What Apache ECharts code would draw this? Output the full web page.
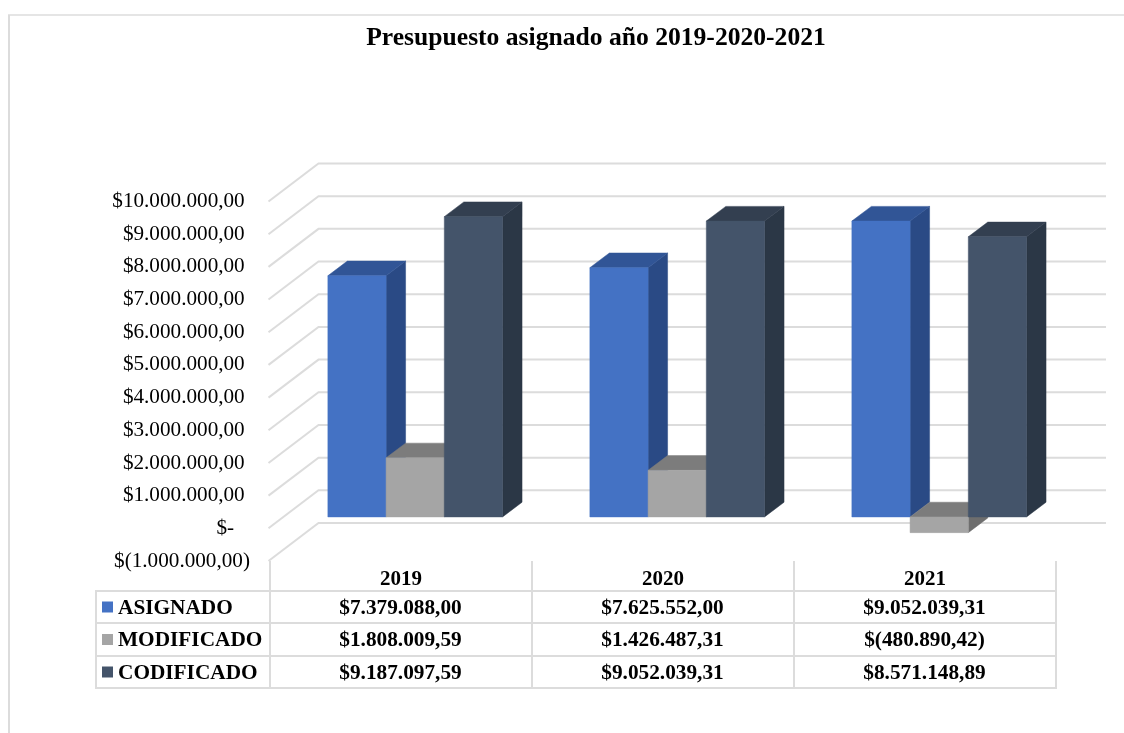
<!DOCTYPE html>
<html lang="es">
<head>
	<meta charset="UTF-8">
	<style>
		html, body { margin: 0; padding: 0; background: #fff; }
		#chart { width: 1124px; height: 733px; }
	</style>
</head>
<body>
<div id="chart"></div>
<script src="https://cdn.jsdelivr.net/npm/echarts@6/dist/echarts.min.js"></script>
<script>
  var categories = ['2019', '2020', '2021'];
  var seriesNames = ['ASIGNADO', 'MODIFICADO', 'CODIFICADO'];
  var asignado = [7379088.00, 7625552.00, 9052039.31];
  var modificado = [1808009.59, 1426487.31, -480890.42];
  var codificado = [9187097.59, 9052039.31, 8571148.89];
  var tickValues = [-1000000, 0, 1000000, 2000000, 3000000, 4000000, 5000000, 6000000, 7000000, 8000000, 9000000, 10000000];
  var tickLabels = ['$(1.000.000,00)', '$-', '$1.000.000,00', '$2.000.000,00', '$3.000.000,00', '$4.000.000,00',
    '$5.000.000,00', '$6.000.000,00', '$7.000.000,00', '$8.000.000,00', '$9.000.000,00', '$10.000.000,00'];
  var asignadoText = ['$7.379.088,00', '$7.625.552,00', '$9.052.039,31'];
  var modificadoText = ['$1.808.009,59', '$1.426.487,31', '$(480.890,42)'];
  var codificadoText = ['$9.187.097,59', '$9.052.039,31', '$8.571.148,89'];

  // front, side, top colour of each bar series
  var barColors = [
    ['#4472C4', '#2A4A85', '#315596'],
    ['#A5A5A5', '#6E6E6E', '#7C7C7C'],
    ['#44546A', '#2B3746', '#333F50']
  ];
  var fontName = '"Liberation Serif", serif';
  var lineColor = '#DCDCDC';

  // the 3d box: full depth of the floor, and how deep the bars sit in it
  var wallDx = 50, wallDy = 38;
  var barDx = 19.5, barDy = 14.7;
  var shiftDx = 14.2, shiftDy = 11.4;

  var chart = echarts.init(document.getElementById('chart'));

  function toPairs(arr) {
    return arr.map(function (v, i) { return [i, v]; });
  }

  function renderWall(params, api) {
    var cs = params.coordSys;
    var y = api.coord([0, api.value(1)])[1];
    return {
      type: 'polyline',
      shape: { points: [[cs.x - 1.5, y], [cs.x + wallDx - 1.5, y - wallDy], [cs.x + cs.width + wallDx, y - wallDy]] },
      style: { stroke: lineColor, lineWidth: 2, fill: null }
    };
  }

  function poly(points, color) {
    return { type: 'polygon', shape: { points: points }, style: { fill: color, stroke: color, lineWidth: 0.5 } };
  }

  function makeBarRenderer(idx) {
    return function (params, api) {
      var catW = api.size([1, 0])[0];
      var barW = catW / 1.5 / 3;
      var cx = api.coord([api.value(0), 0])[0];
      var y0 = api.coord([0, 0])[1] - shiftDy;
      var yv = api.coord([0, api.value(1)])[1] - shiftDy;
      var x1 = cx + shiftDx + (idx - 1.5) * barW;
      var x2 = x1 + barW;
      var top = Math.min(y0, yv), bot = Math.max(y0, yv);
      var c = barColors[idx];
      return {
        type: 'group',
        children: [
          poly([[x2, top], [x2 + barDx, top - barDy], [x2 + barDx, bot - barDy], [x2, bot]], c[1]),
          poly([[x1, top], [x1 + barDx, top - barDy], [x2 + barDx, top - barDy], [x2, top]], c[2]),
          poly([[x1, top], [x2, top], [x2, bot], [x1, bot]], c[0])
        ]
      };
    };
  }

  function line(x1, y1, x2, y2, w) {
    return { type: 'line', shape: { x1: x1, y1: y1, x2: x2, y2: y2 }, style: { stroke: lineColor, lineWidth: w || 2 }, silent: true };
  }

  function label(text, x, y, align) {
    return {
      type: 'text', silent: true, x: x, y: y,
      style: { text: text, fill: '#000', font: 'bold 21.3px ' + fontName, align: align, verticalAlign: 'middle' }
    };
  }

  // table under the plot + outer frame
  var colX = [270, 532, 794, 1056];
  var rowY = [591, 623, 656, 688];
  var rowText = [asignadoText, modificadoText, codificadoText];
  var graphics = [line(9, 15, 9, 733, 2), line(8, 15, 1124, 15, 1.5)];
  rowY.forEach(function (y) { graphics.push(line(95, y, 1056, y)); });
  colX.forEach(function (x) { graphics.push(line(x, 561, x, 689)); });
  graphics.push(line(96, 591, 96, 689));
  seriesNames.forEach(function (name, r) {
    var mid = (rowY[r] + rowY[r + 1]) / 2;
    graphics.push({
      type: 'rect', silent: true,
      shape: { x: 102, y: mid - 5.5, width: 11, height: 11 },
      style: { fill: barColors[r][0] }
    });
    graphics.push(label(name, 118, mid + 1, 'left'));
    rowText[r].forEach(function (t, c) {
      graphics.push(label(t, (colX[c] + colX[c + 1]) / 2 - 0.5, mid + 1, 'center'));
    });
  });

  var option = {
    animation: false,
    backgroundColor: '#fff',
    title: {
      text: 'Presupuesto asignado año 2019-2020-2021',
      left: 591,
      top: 20,
      textAlign: 'center',
      textStyle: { color: '#000', fontFamily: fontName, fontWeight: 'bold', fontSize: 25.6 }
    },
    grid: { left: 270, right: 68, top: 201.5, bottom: 172, outerBoundsMode: 'none' },
    xAxis: {
      type: 'category',
      data: categories,
      axisLine: { show: false, onZero: false },
      axisTick: { show: false },
      axisLabel: { color: '#000', fontFamily: fontName, fontWeight: 'bold', fontSize: 21, margin: 8 }
    },
    yAxis: {
      type: 'value',
      min: -1000000,
      max: 10000000,
      interval: 1000000,
      axisLine: { show: false },
      axisTick: { show: false },
      splitLine: { show: false },
      axisLabel: {
        color: '#000', fontFamily: fontName, fontSize: 21.2, margin: 20,
        formatter: function (v) {
          var t = tickLabels[tickValues.indexOf(v)];
          // accounting style: the closing paren hangs out, the dash sits further in
          if (v < 0) return t;
          return v === 0 ? t + '\u00a0\u00a0\u00a0' : t + '\u00a0';
        }
      }
    },
    graphic: graphics,
    series: [
      { type: 'custom', coordinateSystem: 'cartesian2d', clip: false, silent: true, z: 1,
        encode: { x: 0, y: 1 }, renderItem: renderWall,
        data: tickValues.map(function (v) { return [0, v]; }) },
      { type: 'custom', name: seriesNames[0], clip: false, silent: true, z: 2,
        encode: { x: 0, y: 1 }, renderItem: makeBarRenderer(0), data: toPairs(asignado) },
      { type: 'custom', name: seriesNames[1], clip: false, silent: true, z: 3,
        encode: { x: 0, y: 1 }, renderItem: makeBarRenderer(1), data: toPairs(modificado) },
      { type: 'custom', name: seriesNames[2], clip: false, silent: true, z: 4,
        encode: { x: 0, y: 1 }, renderItem: makeBarRenderer(2), data: toPairs(codificado) }
    ]
  };
  chart.setOption(option);
</script>
</body>
</html>
